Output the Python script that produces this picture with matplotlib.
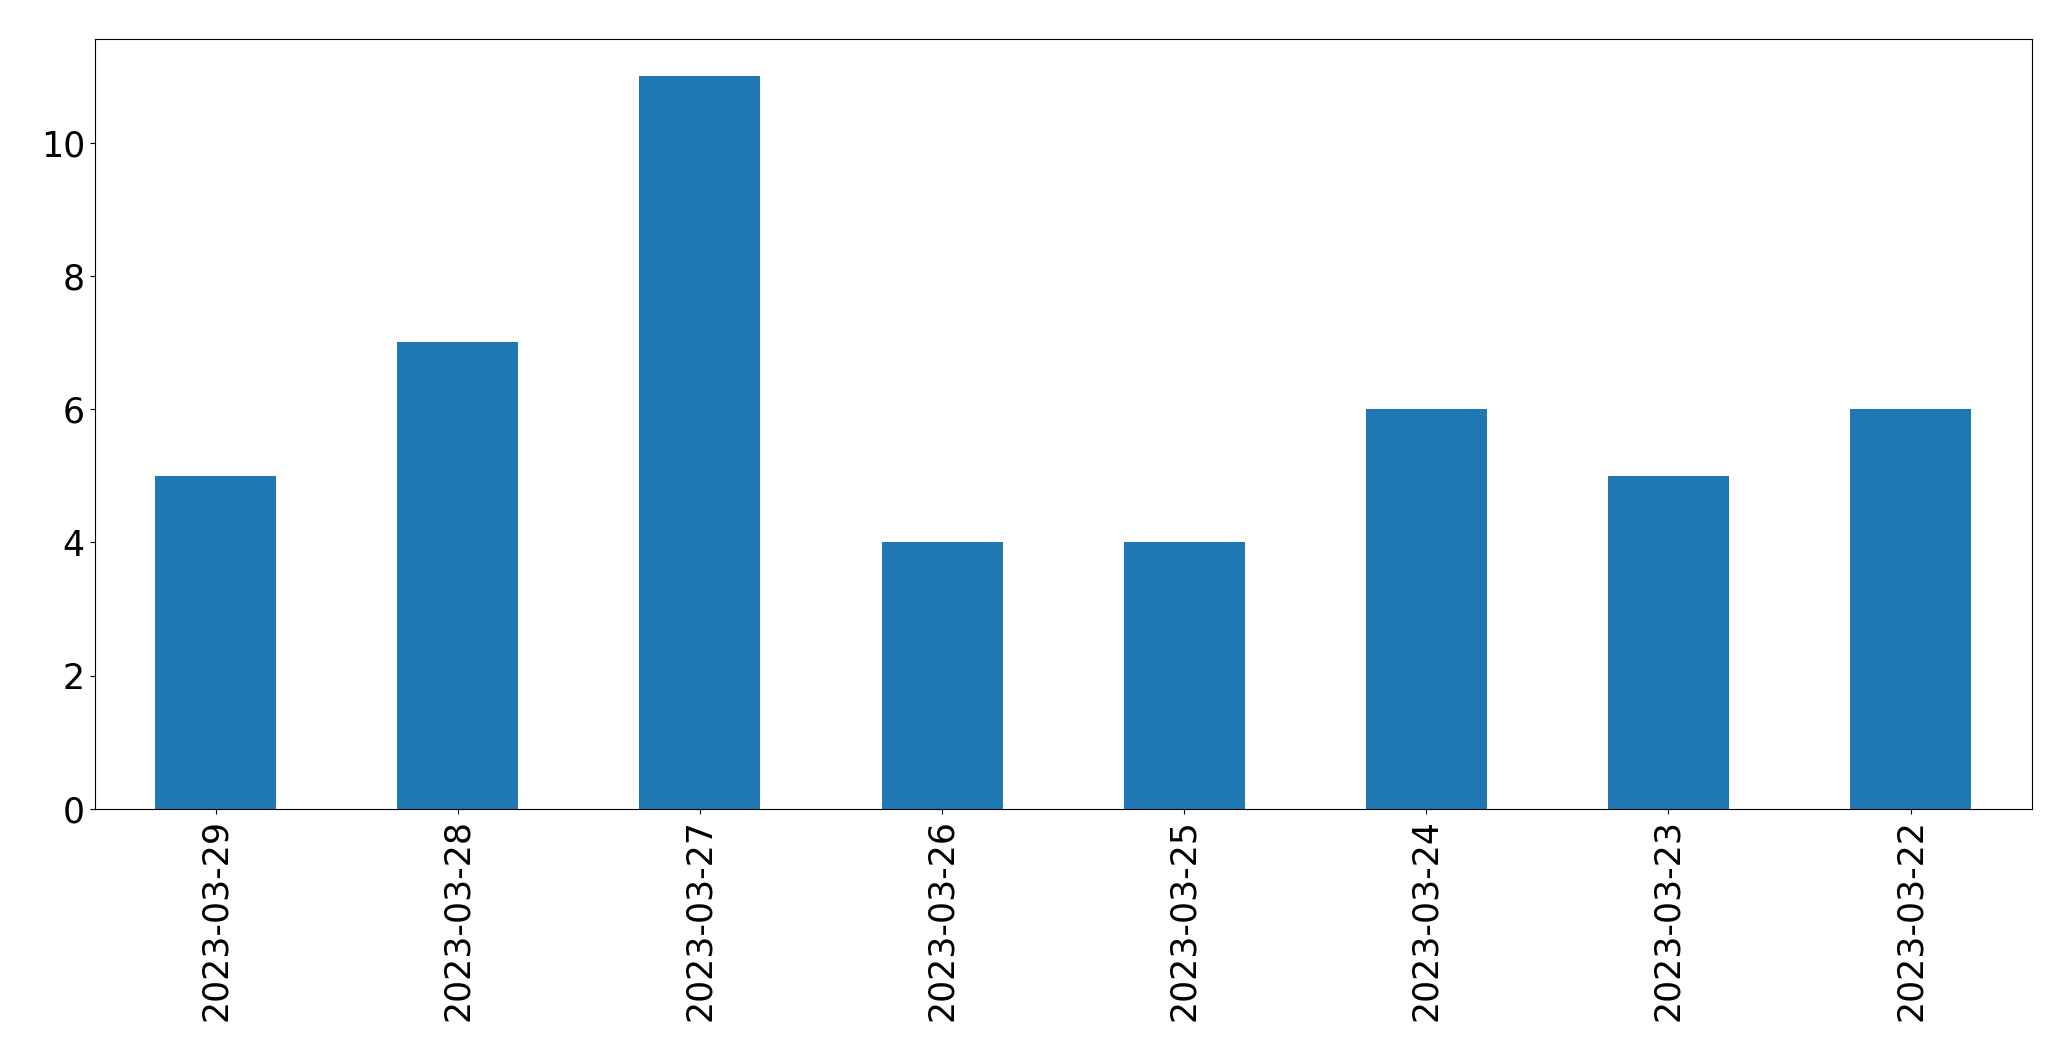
import matplotlib
matplotlib.use("Agg")
import matplotlib.pyplot as plt
import numpy as np

dates = ["2023-03-29", "2023-03-28", "2023-03-27", "2023-03-26",
         "2023-03-25", "2023-03-24", "2023-03-23", "2023-03-22"]
counts = [5, 7, 11, 4, 4, 6, 5, 6]

plt.rcParams.update({'font.size': 25})

fig = plt.figure(figsize=(20.71, 10.61), dpi=100)
ax = fig.add_axes([0.0457, 0.2375, 0.9353, 0.7255])

x = np.arange(len(dates))
ax.bar(x, counts, width=0.5, color="#1f77b4")
ax.set_xticks(x)
ax.set_xticklabels(dates, rotation=90)
ax.set_xlim(-0.5, len(dates) - 0.5)
ax.set_ylim(0, max(counts) * 1.05)

fig.savefig("out.png", dpi=100)
